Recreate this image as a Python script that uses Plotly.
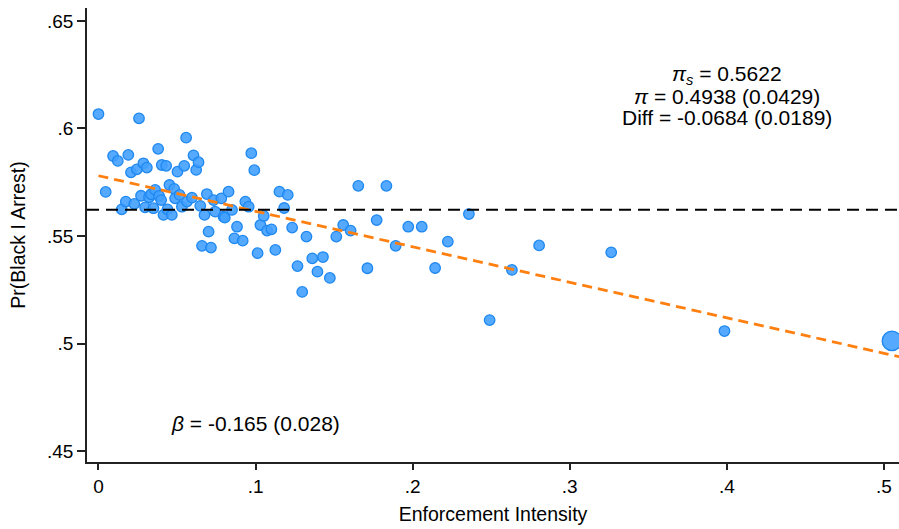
import plotly.graph_objects as go

# ---- data ----
enf_x = [0.000, 0.0046, 0.0093, 0.0123, 0.0148, 0.0174, 0.0190, 0.0207, 0.0228, 0.0244,
         0.0258, 0.0271, 0.0286, 0.0297, 0.0308, 0.0322, 0.0335, 0.0350, 0.0361, 0.0380,
         0.0386, 0.0399, 0.0403, 0.0414, 0.0431, 0.0452, 0.0482, 0.0488, 0.0516, 0.0439,
         0.0467, 0.0503, 0.0546, 0.0558, 0.0531, 0.0563, 0.0595, 0.0605, 0.0622, 0.0637,
         0.0648, 0.0675, 0.0690, 0.0701, 0.0659, 0.0716, 0.0733, 0.0743, 0.0782, 0.0796,
         0.0804, 0.0828, 0.0850, 0.0882, 0.0865, 0.0918, 0.0935, 0.0956, 0.0973, 0.0992,
         0.1013, 0.1031, 0.1052, 0.1073, 0.1101, 0.1126, 0.1152, 0.1182, 0.1205, 0.1233,
         0.1267, 0.1297, 0.1324, 0.1361, 0.1394, 0.1429, 0.1473, 0.1514, 0.1558, 0.1605,
         0.1654, 0.1712, 0.1771, 0.1833, 0.1892, 0.1972, 0.2058, 0.2143, 0.2224, 0.2358,
         0.2490, 0.2632, 0.2805, 0.3264, 0.3985]
pr_black = [0.6067, 0.5705, 0.5872, 0.5849, 0.5624, 0.5660, 0.5877, 0.5796, 0.5649, 0.5810,
            0.6047, 0.5687, 0.5838, 0.5633, 0.5818, 0.5680, 0.5694, 0.5629, 0.5714, 0.5905,
            0.5686, 0.5667, 0.5830, 0.5598, 0.5826, 0.5737, 0.5719, 0.5675, 0.5691, 0.5624,
            0.5598, 0.5799, 0.5826, 0.5957, 0.5636, 0.5660, 0.5678, 0.5875, 0.5807, 0.5843,
            0.5640, 0.5598, 0.5695, 0.5520, 0.5454, 0.5446, 0.5667, 0.5613, 0.5675, 0.5590,
            0.5585, 0.5706, 0.5621, 0.5543, 0.5489, 0.5478, 0.5660, 0.5636, 0.5885, 0.5806,
            0.5420, 0.5551, 0.5593, 0.5525, 0.5531, 0.5435, 0.5706, 0.5630, 0.5691, 0.5539,
            0.5360, 0.5240, 0.5497, 0.5396, 0.5334, 0.5402, 0.5305, 0.5497, 0.5551, 0.5525,
            0.5733, 0.5350, 0.5574, 0.5733, 0.5454, 0.5543, 0.5543, 0.5351, 0.5474, 0.5602,
            0.5109, 0.5342, 0.5456, 0.5424, 0.5058]
big_x = [0.5051]
big_y = [0.5012]
pi_s = 0.5622
fit_x = [0.0, 0.5100]
fit_y = [0.5780, 0.4938]

x_ticks = [0, 0.1, 0.2, 0.3, 0.4, 0.5]
x_tick_labels = ["0", ".1", ".2", ".3", ".4", ".5"]
y_ticks = [0.45, 0.5, 0.55, 0.6, 0.65]
y_tick_labels = [".45", ".5", ".55", ".6", ".65"]

FONT = "Liberation Sans"
fill = "rgba(66,160,255,0.9)"
edge = "#1e88f0"

fig = go.Figure()
fig.add_trace(go.Scatter(
    x=enf_x, y=pr_black, mode="markers",
    marker=dict(size=10.5, color=fill, line=dict(color=edge, width=1.3)),
    showlegend=False, hoverinfo="skip"))
fig.add_trace(go.Scatter(
    x=big_x, y=big_y, mode="markers",
    marker=dict(size=19.5, color=fill, line=dict(color=edge, width=1.3)),
    showlegend=False, hoverinfo="skip"))
fig.add_trace(go.Scatter(
    x=fit_x, y=fit_y, mode="lines",
    line=dict(color="#FF8010", width=2.8, dash="10px,6px"),
    showlegend=False, hoverinfo="skip"))

fig.add_shape(type="line", xref="paper", x0=0, x1=1, yref="y", y0=pi_s, y1=pi_s,
              line=dict(color="black", width=2, dash="12px,7px"), layer="above")

ann_font = dict(family=FONT, size=21, color="black")
fig.add_annotation(x=0.4, y=0.6249, xref="x", yref="y", showarrow=False,
                   text="<i>π</i><sub><i>s</i></sub> = 0.5622", font=ann_font)
fig.add_annotation(x=0.4, y=0.6147, xref="x", yref="y", showarrow=False,
                   text="<i>π</i> = 0.4938 (0.0429)", font=ann_font)
fig.add_annotation(x=0.4, y=0.6049, xref="x", yref="y", showarrow=False,
                   text="Diff = -0.0684 (0.0189)", font=ann_font)
fig.add_annotation(x=0.1, y=0.4626, xref="x", yref="y", showarrow=False,
                   text="<i>β</i> = -0.165 (0.028)", font=ann_font)

axis_common = dict(showline=True, linecolor="#222", linewidth=1.5, ticks="outside",
                   tickcolor="#222", tickwidth=1.5, showgrid=False, zeroline=False,
                   tickfont=dict(family=FONT, size=19, color="black"))

fig.update_layout(
    width=899, height=529,
    margin=dict(l=87, r=0, t=8, b=67),
    paper_bgcolor="white", plot_bgcolor="white",
    font=dict(family=FONT, color="black"),
    xaxis=dict(range=[-0.0073, 0.5096], tickvals=x_ticks, ticktext=x_tick_labels,
               ticklen=6,
               title=dict(text="Enforcement Intensity", standoff=12,
                          font=dict(family=FONT, size=19.5, color="black")),
               **axis_common),
    yaxis=dict(range=[0.4449, 0.656], tickvals=y_ticks, ticktext=y_tick_labels,
               ticklen=8,
               title=dict(text="Pr(Black I Arrest)", standoff=16,
                          font=dict(family=FONT, size=19.5, color="black")),
               **axis_common),
)

fig.write_html("out.html")
